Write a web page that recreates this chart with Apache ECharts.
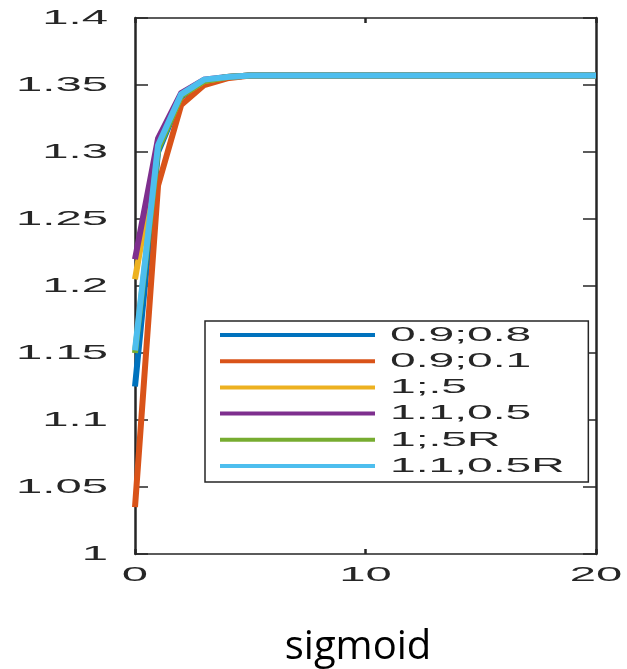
<!DOCTYPE html>
<html>
<head>
<meta charset="utf-8">
<script src="https://cdn.jsdelivr.net/npm/echarts@6/dist/echarts.min.js"></script>
<style>
  html, body { margin: 0; padding: 0; background: #fff; }
  #chart { width: 627px; height: 669px; }
</style>
</head>
<body>
<div id="chart"></div>
<script>
// Iteration index
const steps = [0, 1, 2, 3, 4, 5, 6, 7, 8, 9, 10, 11, 12, 13, 14, 15, 16, 17, 18, 19, 20];

// One curve per initial setting
const seriesNames = ['0.9;0.8', '0.9;0.1', '1;.5', '1.1,0.5', '1;.5R', '1.1,0.5R'];
const s09_08  = [1.125, 1.300, 1.341, 1.353, 1.356, 1.357, 1.357, 1.357, 1.357, 1.357, 1.357, 1.357, 1.357, 1.357, 1.357, 1.357, 1.357, 1.357, 1.357, 1.357, 1.357];
const s09_01  = [1.035, 1.275, 1.335, 1.350, 1.355, 1.357, 1.357, 1.357, 1.357, 1.357, 1.357, 1.357, 1.357, 1.357, 1.357, 1.357, 1.357, 1.357, 1.357, 1.357, 1.357];
const s1_05   = [1.205, 1.303, 1.342, 1.353, 1.356, 1.357, 1.357, 1.357, 1.357, 1.357, 1.357, 1.357, 1.357, 1.357, 1.357, 1.357, 1.357, 1.357, 1.357, 1.357, 1.357];
const s11_05  = [1.220, 1.310, 1.344, 1.354, 1.356, 1.357, 1.357, 1.357, 1.357, 1.357, 1.357, 1.357, 1.357, 1.357, 1.357, 1.357, 1.357, 1.357, 1.357, 1.357, 1.357];
const s1_05R  = [1.150, 1.302, 1.342, 1.353, 1.356, 1.357, 1.357, 1.357, 1.357, 1.357, 1.357, 1.357, 1.357, 1.357, 1.357, 1.357, 1.357, 1.357, 1.357, 1.357, 1.357];
const s11_05R = [1.152, 1.305, 1.343, 1.354, 1.356, 1.357, 1.357, 1.357, 1.357, 1.357, 1.357, 1.357, 1.357, 1.357, 1.357, 1.357, 1.357, 1.357, 1.357, 1.357, 1.357];
const seriesValues = [s09_08, s09_01, s1_05, s11_05, s1_05R, s11_05R];
const seriesColors = ['#0072BD', '#D95319', '#EDB120', '#7E2F8E', '#77AC30', '#4DBEEE'];

// Axis ticks
const xTickValues = [0, 10, 20];
const xTickLabels = ['0', '10', '20'];
const yTickValues = [1, 1.05, 1.1, 1.15, 1.2, 1.25, 1.3, 1.35, 1.4];
const yTickLabels = ['1', '1.05', '1.1', '1.15', '1.2', '1.25', '1.3', '1.35', '1.4'];
const xLabel = 'sigmoid';

const axisColor = '#262626';
const labelFont = '21px "Liberation Sans", Arial, sans-serif';
const stretch = 2.25;

const chart = echarts.init(document.getElementById('chart'), null, { renderer: 'canvas' });

const boxX = (position, showTicks) => ({
  type: 'value', position: position, min: 0, max: 20, interval: 10,
  axisLine: { show: true, onZero: false, lineStyle: { color: axisColor, width: 1.5 } },
  axisTick: { show: showTicks, inside: true, length: 5, lineStyle: { color: axisColor, width: 2.5 } },
  axisLabel: { show: false },
  splitLine: { show: false }
});
const boxY = (position) => ({
  type: 'value', position: position, min: 1, max: 1.4, interval: 0.05,
  axisLine: { show: true, onZero: false, lineStyle: { color: axisColor, width: 2.5 } },
  axisTick: { show: true, inside: true, length: 13, lineStyle: { color: axisColor, width: 1.5 } },
  axisLabel: { show: false },
  splitLine: { show: false }
});

const xBottom = boxX('bottom', true);
xBottom.name = xLabel;
xBottom.nameLocation = 'middle';
xBottom.nameGap = 74;
xBottom.nameTextStyle = {
  fontFamily: '"Open Sans", sans-serif', fontSize: 40, color: '#000',
  padding: [0, 15, 0, 0]
};

chart.setOption({
  animation: false,
  backgroundColor: '#fff',
  grid: { left: 135, right: 31, top: 18, bottom: 115, containLabel: false, outerBoundsMode: 'none' },
  xAxis: [xBottom, boxX('top', true)],
  yAxis: [boxY('left'), boxY('right')],
  legend: {
    show: true,
    orient: 'vertical',
    left: 205, top: 321,
    padding: [3, 205, 5, 15],
    itemWidth: 155, itemHeight: 4, itemGap: 4.2,
    icon: 'rect',
    selectedMode: false,
    borderColor: axisColor, borderWidth: 1.5, backgroundColor: '#fff',
    formatter: () => ' ',
    textStyle: { fontSize: 12, lineHeight: 22, color: 'transparent' },
    data: seriesNames
  },
  series: seriesNames.map((name, i) => ({
    name: name,
    type: 'line',
    xAxisIndex: 0, yAxisIndex: 0,
    data: steps.map((x, j) => [x, seriesValues[i][j]]),
    showSymbol: false,
    symbol: 'none',
    clip: false,
    color: seriesColors[i],
    lineStyle: { color: seriesColors[i], width: 6, join: 'miter' },
    z: 2 + i
  }))
});

// Tick labels and legend entries are drawn in a wide, horizontally stretched face
const graphics = [];
yTickValues.forEach((v, i) => {
  const py = chart.convertToPixel({ yAxisIndex: 0 }, v);
  graphics.push({
    type: 'text', x: 108, y: py, scaleX: stretch, originX: 0, originY: 0,
    style: { text: yTickLabels[i], font: labelFont, fill: axisColor, align: 'right', verticalAlign: 'middle' },
    silent: true
  });
});
xTickValues.forEach((v, i) => {
  const px = chart.convertToPixel({ xAxisIndex: 0 }, v);
  graphics.push({
    type: 'text', x: px, y: 575, scaleX: stretch, originX: 0, originY: 0,
    style: { text: xTickLabels[i], font: labelFont, fill: axisColor, align: 'center', verticalAlign: 'middle' },
    silent: true
  });
});
seriesNames.forEach((name, i) => {
  graphics.push({
    type: 'text', x: 390, y: 335 + i * 26.2, scaleX: 2.2, originX: 0, originY: 0,
    style: { text: name, font: labelFont, fill: axisColor, align: 'left', verticalAlign: 'middle' },
    z: 100, silent: true
  });
});
chart.setOption({ graphic: graphics });
</script>
</body>
</html>
